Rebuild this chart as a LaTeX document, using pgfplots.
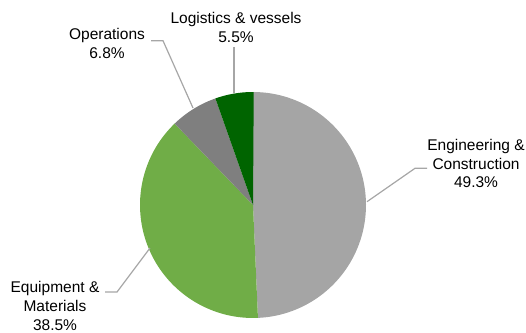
\documentclass[border=0pt]{standalone}
\usepackage{pgfplots}
\pgfplotsset{compat=1.18}
\usepackage{fontspec}
\setmainfont{Liberation Sans}
\definecolor{cEng}{HTML}{A5A5A5}
\definecolor{cEqu}{HTML}{70AD47}
\definecolor{cOps}{HTML}{7F7F7F}
\definecolor{cLog}{HTML}{006400}
\definecolor{cLine}{HTML}{A6A6A6}
\tikzset{lbl/.style={font=\fontsize{15.5bp}{18.7bp}\selectfont, align=center, text=black, inner sep=0pt}}
% shares in percent
\def\vEng{49.3}
\def\vEqu{38.5}
\def\vOps{6.8}
\def\vLog{5.5}
\def\cx{253}
\def\cy{128}
\def\R{113}
\begin{document}
\begin{tikzpicture}
\pgfmathsetmacro{\aA}{90}
\pgfmathsetmacro{\aB}{\aA-3.6*\vEng}
\pgfmathsetmacro{\aC}{\aB-3.6*\vEqu}
\pgfmathsetmacro{\aD}{\aC-3.6*\vOps}
\pgfmathsetmacro{\aE}{\aD-3.6*\vLog}
\begin{axis}[
  scale only axis, width=526bp, height=333bp,
  xmin=0, xmax=526, ymin=0, ymax=333,
  hide axis, clip=false,
]
\addplot[fill=cEng, draw=none, domain=\aB:\aA, samples=80, variable=\t] ({\cx+\R*cos(t)},{\cy+\R*sin(t)}) -- (axis cs:\cx,\cy) -- cycle;
\addplot[fill=cEqu, draw=none, domain=\aC:\aB, samples=80, variable=\t] ({\cx+\R*cos(t)},{\cy+\R*sin(t)}) -- (axis cs:\cx,\cy) -- cycle;
\addplot[fill=cOps, draw=none, domain=\aD:\aC, samples=20, variable=\t] ({\cx+\R*cos(t)},{\cy+\R*sin(t)}) -- (axis cs:\cx,\cy) -- cycle;
\addplot[fill=cLog, draw=none, domain=\aE:\aD, samples=20, variable=\t] ({\cx+\R*cos(t)},{\cy+\R*sin(t)}) -- (axis cs:\cx,\cy) -- cycle;
% leader lines
\draw[cLine, line width=1.2bp] (axis cs:234,286) -- (axis cs:234,240);
\draw[cLine, line width=1.2bp] (axis cs:151,292.3) -- (axis cs:163,292.3) -- (axis cs:193,225);
\draw[cLine, line width=1.2bp] (axis cs:427,164.7) -- (axis cs:415,164.7) -- (axis cs:367,131.3);
\draw[cLine, line width=1.2bp] (axis cs:105,41) -- (axis cs:117,41) -- (axis cs:150,85);
% labels
\node[lbl] at (axis cs:236,305.5) {Logistics \& vessels\\5.5\%};
\node[lbl] at (axis cs:107,289.5) {Operations\\6.8\%};
\node[lbl] at (axis cs:476,169.5) {Engineering \&\\Construction\\49.3\%};
\node[lbl] at (axis cs:55,27) {Equipment \&\\Materials\\38.5\%};
\end{axis}
\pgfresetboundingbox
\useasboundingbox (current axis.south west) rectangle (current axis.north east);
\end{tikzpicture}
\end{document}
